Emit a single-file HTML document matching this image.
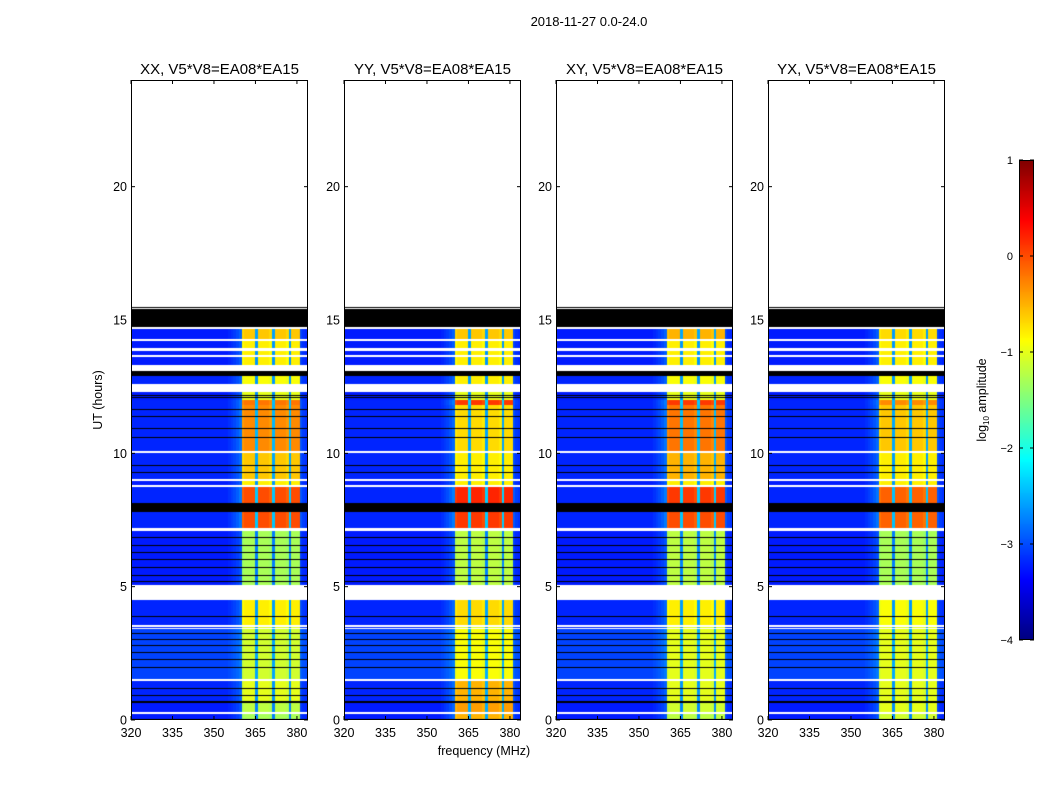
<!DOCTYPE html>
<html><head><meta charset="utf-8">
<style>
body{margin:0;background:#fff;}
#root{position:relative;width:1050px;height:800px;overflow:hidden;font-family:"Liberation Sans","DejaVu Sans",sans-serif;}
canvas{position:absolute;}
svg{position:absolute;left:0;top:0;}
</style></head>
<body>
<div id="root">
<canvas id="c0" width="177" height="640" style="left:131px;top:80px"></canvas>
<canvas id="c1" width="177" height="640" style="left:344px;top:80px"></canvas>
<canvas id="c2" width="177" height="640" style="left:556px;top:80px"></canvas>
<canvas id="c3" width="177" height="640" style="left:768px;top:80px"></canvas>
<canvas id="cb" width="15" height="480" style="left:1019px;top:160px"></canvas>
<svg id="ax" width="1050" height="800"></svg>
</div>
<script>
// ---- data ----
const panelTitles = ["XX, V5*V8=EA08*EA15","YY, V5*V8=EA08*EA15","XY, V5*V8=EA08*EA15","YX, V5*V8=EA08*EA15"];
const xTicks = [320,335,350,365,380];
const yTicks = [0,5,10,15,20];
const cbTicks = [1,0,-1,-2,-3,-4];
const freqStart = 320;
// weight of band signal per 1-MHz channel, 320..383
const bandWeight = [0,0,0,0,0,0,0,0,0,0,0,0,0,0,0,0,0,0,0,0,0,0,0,0,0,0,0,0,0,0,0,0,0,0,0,0.02,0.04,0.06,0.09,0.13,
  0.97,1,1,1,1,0.25,1,1,1,1,0.97,0.25,1,1,1,1,0.97,0.25,1,1,1,0.08,0.04,0.02];
const segStart = [0,0.22,0.3,0.62,0.72,1.45,1.55,3.4,3.45,3.5,3.58,4.5,5.05,7.1,7.2,7.8,8.15,8.75,8.82,8.95,9.05,10.0,10.08,11.8,12.0,12.3,12.6,12.9,13.1,13.3,13.6,13.7,13.85,13.95,14.2,14.3,14.65,14.75,15.4,15.45];
const segEnd   = [0.22,0.3,0.62,0.72,1.45,1.55,3.4,3.45,3.5,3.58,4.5,5.05,7.1,7.2,7.8,8.15,8.75,8.82,8.95,9.05,10.0,10.08,11.8,12.0,12.3,12.6,12.9,13.1,13.3,13.6,13.7,13.85,13.95,14.2,14.3,14.65,14.75,15.4,15.45,15.5];
const segKind  = ["D","W","D","K","D","W","D","W","D","W","D","W","D","W","D","K","D","W","D","W","D","W","D","D","D","W","D","K","W","D","W","D","W","D","W","D","W","K","W","K"];
const bandXX = [-1.3,0,-1.2,0,-1.0,0,-1.1,0,-1,0,-0.8,0,-1.3,0,0.0,0,0.0,0,-0.8,0,-0.6,0,-0.3,-0.2,-1.0,0,-0.9,0,0,-0.8,0,-0.8,0,-0.8,0,-0.6,0,0,0,0];
const bandYY = [-0.5,0,-0.4,0,-0.5,0,-0.9,0,-1,0,-0.7,0,-1.2,0,0.1,0,0.2,0,-0.8,0,-0.8,0,-0.7,0.1,-1.0,0,-0.8,0,0,-0.8,0,-0.8,0,-0.8,0,-0.6,0,0,0,0];
const bandXY = [-1.2,0,-1.1,0,-1.0,0,-1.0,0,-1,0,-0.8,0,-1.2,0,0.0,0,0.1,0,-0.8,0,-0.5,0,-0.2,0.1,-1.0,0,-0.9,0,0,-0.8,0,-0.8,0,-0.8,0,-0.5,0,0,0,0];
const bandYX = [-1.1,0,-1.0,0,-1.0,0,-1.0,0,-1,0,-0.9,0,-1.3,0,-0.1,0,-0.1,0,-0.8,0,-0.8,0,-0.6,-0.3,-1.0,0,-0.9,0,0,-0.8,0,-0.8,0,-0.8,0,-0.7,0,0,0,0];
const bgLevel  = [-3.25,0,-3.25,0,-3.2,0,-3.05,0,-3.2,0,-3.2,0,-3.25,0,-3.2,0,-3.2,0,-3.25,0,-3.2,0,-3.2,-3.2,-3.25,0,-3.2,0,0,-3.25,0,-3.25,0,-3.25,0,-3.25,0,0,0,0];
const blackLines = [0.05,0.95,1.2,2.0,2.3,2.55,2.8,3.05,3.25,3.9,5.2,5.45,5.75,6.05,6.3,6.55,6.85,7.9,9.3,9.55,10.6,10.95,11.4,11.65,12.1,12.2,13.0,15.47];
const panelBands = [bandXX,bandYY,bandXY,bandYX];

// ---- scales ----
const pW=177,pH=640,panelLeft=[131,344,556,768],pTop=80;
function xScale(f){return (f-320)/64*pW;}
function yScale(h){return pH-(h/24)*pH;}
function jet(t){t=Math.max(0,Math.min(1,t));
  const r=Math.min(1,Math.max(0,1.5-Math.abs(4*t-3)));
  const g=Math.min(1,Math.max(0,1.5-Math.abs(4*t-2)));
  const b=Math.min(1,Math.max(0,1.5-Math.abs(4*t-1)));
  return `rgb(${Math.round(r*255)},${Math.round(g*255)},${Math.round(b*255)})`;}
function norm(v){return (v+4)/5;}

panelBands.forEach((band,p)=>{
  const ctx=document.getElementById('c'+p).getContext('2d');
  for(let s=0;s<segStart.length;s++){
    const y0=Math.round(yScale(segEnd[s])), y1=Math.round(yScale(segStart[s]));
    const h=Math.max(1,y1-y0);
    if(segKind[s]==='W') continue;
    if(segKind[s]==='K'){ctx.fillStyle='#000';ctx.fillRect(0,y0,pW,h);continue;}
    for(let i=0;i<bandWeight.length;i++){
      const v=bgLevel[s]+bandWeight[i]*(band[s]-bgLevel[s]);
      const x0=Math.round(xScale(freqStart+i)), x1=Math.round(xScale(freqStart+i+1));
      ctx.fillStyle=jet(norm(v));ctx.fillRect(x0,y0,x1-x0,h);
    }
  }
  ctx.fillStyle='#000';
  blackLines.forEach(b=>ctx.fillRect(0,Math.round(yScale(b)),pW,1));
});
// colorbar
(function(){const ctx=document.getElementById('cb').getContext('2d');
  for(let y=0;y<480;y++){ctx.fillStyle=jet(1-y/479);ctx.fillRect(0,y,15,1);}})();

// ---- axes (svg) ----
const NS='http://www.w3.org/2000/svg';
const svg=document.getElementById('ax');
function mk(tag,attrs,text){const e=document.createElementNS(NS,tag);for(const k in attrs)e.setAttribute(k,attrs[k]);if(text!==undefined)e.textContent=text;svg.appendChild(e);return e;}
panelLeft.forEach((L,p)=>{
  const fr=mk('rect',{x:L+0.5,y:pTop+0.5,width:pW-1,height:pH-1,fill:'none',stroke:'#000','stroke-width':1});
  
  
  const t=mk('text',{x:L+pW/2,y:74,'text-anchor':'middle','font-size':15,fill:'#000'},panelTitles[p]);
  
  
  xTicks.forEach(f=>{const x=L+xScale(f);
    mk('line',{x1:x,x2:x,y1:pTop+pH,y2:pTop+pH-4,stroke:'#000'});
    mk('line',{x1:x,x2:x,y1:pTop,y2:pTop+4,stroke:'#000'});
    const tl=mk('text',{x:x,y:737,'text-anchor':'middle','font-size':12.5,fill:'#000'},String(f));
    
    
  });
  yTicks.forEach(h=>{const y=pTop+yScale(h);
    mk('line',{x1:L,x2:L+4,y1:y,y2:y,stroke:'#000'});
    mk('line',{x1:L+pW,x2:L+pW-4,y1:y,y2:y,stroke:'#000'});
    const tl=mk('text',{x:L-4,y:y+4.5,'text-anchor':'end','font-size':12.5,fill:'#000'},String(h));
    
    
  });
});
const st=mk('text',{x:589,y:26,'text-anchor':'middle','font-size':13,fill:'#000'},'2018-11-27 0.0-24.0');


const yl=mk('text',{x:0,y:0,transform:'translate(102,400) rotate(-90)','text-anchor':'middle','font-size':12.5,fill:'#000'},'UT (hours)');


const xl=mk('text',{x:484,y:755,'text-anchor':'middle','font-size':12.5,fill:'#000'},'frequency (MHz)');


mk('rect',{x:1019.5,y:160.5,width:14,height:479,fill:'none',stroke:'#000'});
cbTicks.forEach(v=>{const y=160+(1-v)*96;
  mk('line',{x1:1019,x2:1023,y1:y,y2:y,stroke:'#000'});
  mk('line',{x1:1034,x2:1030,y1:y,y2:y,stroke:'#000'});
  const tl=mk('text',{x:1013,y:y+4,'text-anchor':'end','font-size':11,fill:'#000'},v<0?'\u2212'+(-v):String(v));
  
  
});
const cl=mk('text',{x:0,y:0,transform:'translate(986,400) rotate(-90)','text-anchor':'middle','font-size':12.5,fill:'#000'});


cl.innerHTML='log<tspan font-size="8" dy="3">10</tspan><tspan dy="-3"> amplitude</tspan>';
</script>
</body></html>
